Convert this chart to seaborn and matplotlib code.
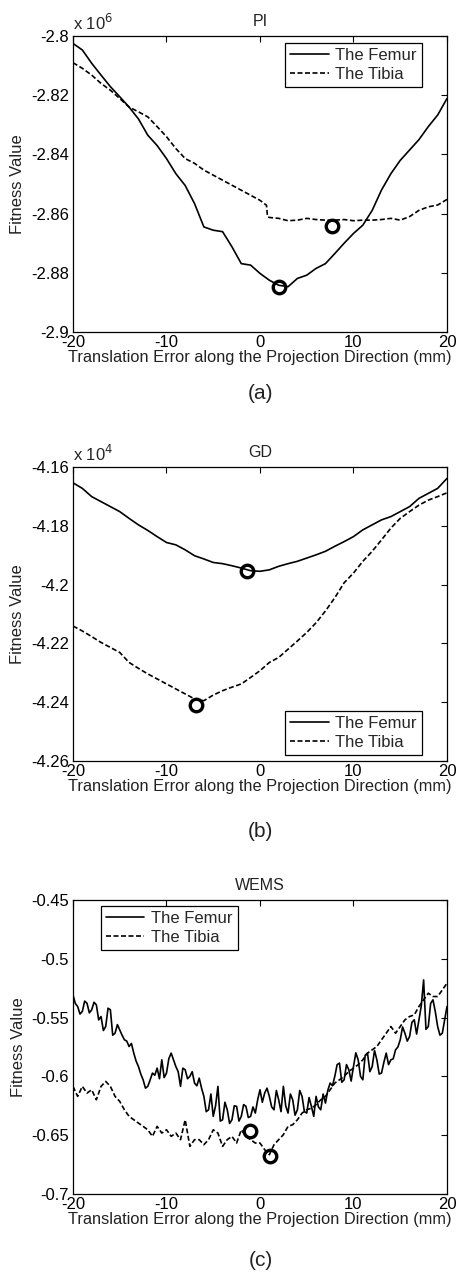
import numpy as np
import pandas as pd
import matplotlib
matplotlib.use("Agg")
import matplotlib.pyplot as plt
import seaborn as sns

# ---- data ----
x1 = list(range(-20, 21))

# (a) PI, values in units of 1e6
pi_femur = [-2.8025, -2.8047, -2.8092, -2.8132, -2.8171, -2.8205, -2.8240, -2.8280, -2.8335,
            -2.8370, -2.8414, -2.8465, -2.8505, -2.8566, -2.8645, -2.8656, -2.8661, -2.8712,
            -2.8769, -2.8774, -2.8802, -2.8825, -2.8842, -2.8847, -2.8819, -2.8808, -2.8785,
            -2.8769, -2.8735, -2.8700, -2.8667, -2.8639, -2.8589, -2.8520, -2.8465, -2.8420,
            -2.8385, -2.8350, -2.8306, -2.8267, -2.8211]
pi_tibia_x = [-20, -19, -18, -17, -16, -15, -14, -13, -12, -11, -10, -9, -8, -7, -6, -5, -4, -3,
              -2, -1, 0, 0.7, 0.8, 1, 2, 3, 4, 5, 6, 7, 8, 9, 10, 11, 12, 13, 14, 15, 16, 17, 18,
              19, 20]
pi_tibia = [-2.8090, -2.8109, -2.8132, -2.8160, -2.8183, -2.8211, -2.8240, -2.8256, -2.8273,
            -2.8306, -2.8340, -2.8380, -2.8414, -2.8430, -2.8453, -2.8470, -2.8487, -2.8504,
            -2.8521, -2.8538, -2.8555, -2.8572, -2.8610, -2.8613, -2.8616, -2.8624, -2.8622,
            -2.8616, -2.8620, -2.8622, -2.8622, -2.8620, -2.8624, -2.8622, -2.8622, -2.8620,
            -2.8616, -2.8622, -2.8610, -2.8589, -2.8577, -2.8571, -2.8552]
pi_min_x = [2.0, 7.7]
pi_min_y = [-2.8847, -2.8641]

# (b) GD, values in units of 1e4
gd_femur = [-4.1654, -4.1673, -4.1701, -4.1718, -4.1735, -4.1752, -4.1775, -4.1797, -4.1816,
            -4.1837, -4.1857, -4.1865, -4.1882, -4.1902, -4.1913, -4.1925, -4.1929, -4.1936,
            -4.1944, -4.1953, -4.1955, -4.1950, -4.1938, -4.1929, -4.1921, -4.1910, -4.1899,
            -4.1887, -4.1870, -4.1854, -4.1837, -4.1814, -4.1797, -4.1780, -4.1769, -4.1752,
            -4.1735, -4.1707, -4.1690, -4.1673, -4.1639]
gd_tibia = [-4.2141, -4.2158, -4.2177, -4.2197, -4.2214, -4.2231, -4.2265, -4.2285, -4.2304,
            -4.2321, -4.2338, -4.2355, -4.2372, -4.2389, -4.2395, -4.2376, -4.2361, -4.2349,
            -4.2338, -4.2316, -4.2293, -4.2265, -4.2248, -4.2220, -4.2192, -4.2163, -4.2130,
            -4.2090, -4.2045, -4.1994, -4.1961, -4.1921, -4.1887, -4.1848, -4.1808, -4.1775,
            -4.1752, -4.1730, -4.1713, -4.1701, -4.1688]
gd_min_x = [-1.4, -6.8]
gd_min_y = [-4.1955, -4.2409]

# (c) WEMS: femur at quarter-mm steps, tibia at half-mm steps
x3 = [v / 4 for v in range(-80, 81)]
wems_femur = [
    -0.5307, -0.5380, -0.5406, -0.5470, -0.5448, -0.5360, -0.5378, -0.5460,  # -20 .. -18.25
    -0.5434, -0.5370, -0.5392, -0.5520, -0.5491, -0.5610, -0.5576, -0.5420,  # -18 .. -16.25
    -0.5434, -0.5650, -0.5633, -0.5560, -0.5604, -0.5650, -0.5689, -0.5700,  # -16 .. -14.25
    -0.5746, -0.5720, -0.5802, -0.5870, -0.5916, -0.5980, -0.6029, -0.6100,  # -14 .. -12.25
    -0.6085, -0.6030, -0.5972, -0.5990, -0.5930, -0.6020, -0.5859, -0.6010,  # -12 .. -10.25
    -0.5972, -0.5850, -0.5802, -0.5860, -0.5916, -0.5960, -0.6085, -0.5930,  # -10 .. -8.25
    -0.5944, -0.6020, -0.6000, -0.5960, -0.6057, -0.6080, -0.6015, -0.6100,  # -8 .. -6.25
    -0.6170, -0.6300, -0.6284, -0.6150, -0.6340, -0.6250, -0.6085, -0.6380,  # -6 .. -4.25
    -0.6369, -0.6220, -0.6284, -0.6400, -0.6369, -0.6250, -0.6255, -0.6380,  # -4 .. -2.25
    -0.6340, -0.6240, -0.6255, -0.6350, -0.6340, -0.6260, -0.6312, -0.6200,  # -2 .. -0.25
    -0.6114, -0.6220, -0.6142, -0.6100, -0.6170, -0.6260, -0.6284, -0.6120,  # 0 .. 1.75
    -0.6199, -0.6300, -0.6085, -0.6250, -0.6312, -0.6150, -0.6199, -0.6330,  # 2 .. 3.75
    -0.6284, -0.6120, -0.6170, -0.6300, -0.6312, -0.6180, -0.6255, -0.6340,  # 4 .. 5.75
    -0.6170, -0.6260, -0.6284, -0.6150, -0.6227, -0.6120, -0.6057, -0.6080,  # 6 .. 7.75
    -0.6000, -0.5900, -0.5887, -0.6050, -0.6029, -0.5900, -0.5944, -0.6040,  # 8 .. 9.75
    -0.5916, -0.5800, -0.5859, -0.6000, -0.6029, -0.5820, -0.5802, -0.5960,  # 10 .. 11.75
    -0.5916, -0.5780, -0.5859, -0.5980, -0.5972, -0.5880, -0.5802, -0.5900,  # 12 .. 13.75
    -0.5859, -0.5850, -0.5774, -0.5750, -0.5689, -0.5580, -0.5633, -0.5700,  # 14 .. 15.75
    -0.5661, -0.5540, -0.5519, -0.5640, -0.5519, -0.5400, -0.5180, -0.5600,  # 16 .. 17.75
    -0.5576, -0.5380, -0.5349, -0.5450, -0.5576, -0.5650, -0.5633, -0.5520,  # 18 .. 19.75
    -0.5406]                                                                  # 20
x2 = [v / 2 for v in range(-40, 41)]
wems_tibia = [-0.6085, -0.6170, -0.6085, -0.6142, -0.6114, -0.6199, -0.6085, -0.6043, -0.6085,
              -0.6170, -0.6213, -0.6284, -0.6340, -0.6369, -0.6397, -0.6425, -0.6454, -0.6510,
              -0.6425, -0.6482, -0.6454, -0.6510, -0.6482, -0.6538, -0.6369, -0.6595, -0.6538,
              -0.6538, -0.6581, -0.6538, -0.6454, -0.6482, -0.6595, -0.6538, -0.6510, -0.6567,
              -0.6454, -0.6510, -0.6538, -0.6567, -0.6567, -0.6623, -0.6666, -0.6581, -0.6538,
              -0.6496, -0.6425, -0.6411, -0.6369, -0.6312, -0.6284, -0.6270, -0.6241, -0.6199,
              -0.6170, -0.6114, -0.6057, -0.6029, -0.6000, -0.5958, -0.5930, -0.5901, -0.5859,
              -0.5802, -0.5774, -0.5746, -0.5689, -0.5633, -0.5576, -0.5633, -0.5576, -0.5519,
              -0.5491, -0.5477, -0.5406, -0.5349, -0.5293, -0.5321, -0.5321, -0.5265, -0.5208]
wems_min_x = [-1.1, 1.1]
wems_min_y = [-0.6467, -0.6680]

xticks = [-20, -10, 0, 10, 20]

# ---- style ----
sns.set_style("white")
plt.rcParams['font.family'] = ['Liberation Sans', 'DejaVu Sans']
plt.rcParams['font.size'] = 12
plt.rcParams['axes.unicode_minus'] = False

fig = plt.figure(figsize=(4.57, 12.74), dpi=100)

panels = [
    dict(pos=[0.1597, 0.7394, 0.8184, 0.2323], title='PI', tag='(a)', tagy=0.684,
         fx=x1, fy=pi_femur, tx=pi_tibia_x, ty=pi_tibia, mx=pi_min_x, my=pi_min_y,
         ylim=(-2.9, -2.8), yticks=[-2.9, -2.88, -2.86, -2.84, -2.82, -2.8],
         exp='6', loc='upper right', anchor=(0.933, 0.976)),
    dict(pos=[0.1597, 0.4027, 0.8184, 0.2308], title='GD', tag='(b)', tagy=0.340,
         fx=x1, fy=gd_femur, tx=x1, ty=gd_tibia, mx=gd_min_x, my=gd_min_y,
         ylim=(-4.26, -4.16), yticks=[-4.26, -4.24, -4.22, -4.2, -4.18, -4.16],
         exp='4', loc='lower right', anchor=(0.933, 0.02)),
    dict(pos=[0.1597, 0.0628, 0.8184, 0.2308], title='WEMS', tag='(c)', tagy=0.003,
         fx=x3, fy=wems_femur, tx=x2, ty=wems_tibia, mx=wems_min_x, my=wems_min_y,
         ylim=(-0.7, -0.45), yticks=[-0.7, -0.65, -0.6, -0.55, -0.5, -0.45],
         exp=None, loc='upper left', anchor=(0.075, 0.98)),
]

for p in panels:
    ax = fig.add_axes(p['pos'])
    sns.lineplot(x=p['fx'], y=p['fy'], ax=ax, color='k', lw=1.2, sort=False,
                 estimator=None, label='The Femur')
    sns.lineplot(x=p['tx'], y=p['ty'], ax=ax, color='k', lw=1.2, sort=False,
                 estimator=None, label='The Tibia', linestyle='--')
    ax.lines[1].set_dashes([3, 1.5])
    ax.plot(p['mx'], p['my'], 'o', mfc='none', mec='k', mew=2.4, ms=9)
    ax.set_xlim(-20, 20)
    ax.set_ylim(*p['ylim'])
    ax.set_xticks(xticks)
    ax.set_yticks(p['yticks'])
    ax.set_yticklabels(['%g' % v for v in p['yticks']])
    ax.tick_params(direction='in', top=True, right=True, length=4, width=0.8,
                   labelsize=12, pad=3, colors='k')
    ax.tick_params(axis='x', pad=2)
    for s in ax.spines.values():
        s.set_color('k')
        s.set_linewidth(0.9)
    ax.set_title(p['title'], fontsize=11.5, pad=7, color='#222222')
    ax.set_ylabel('Fitness Value', fontsize=12, labelpad=4, color='#222222')
    ax.set_xlabel('Translation Error along the Projection Direction (mm)',
                  fontsize=11.8, labelpad=0, color='#222222')
    if p['exp']:
        ax.text(0.0, 1.01, 'x 10$^{%s}$' % p['exp'], transform=ax.transAxes,
                fontsize=12, ha='left', va='bottom')
    leg = ax.legend(loc=p['loc'], bbox_to_anchor=p['anchor'], fancybox=False,
                    edgecolor='k', framealpha=1, fontsize=12, handlelength=2.3,
                    borderaxespad=0, labelspacing=0.25, borderpad=0.3, handletextpad=0.4)
    leg.get_frame().set_linewidth(0.9)
    fig.text(0.5 + 0.1597 / 2 - 0.01, p['tagy'], p['tag'], fontsize=15,
             ha='center', va='bottom', color='#222222')

fig.savefig('out.png', dpi=100)
